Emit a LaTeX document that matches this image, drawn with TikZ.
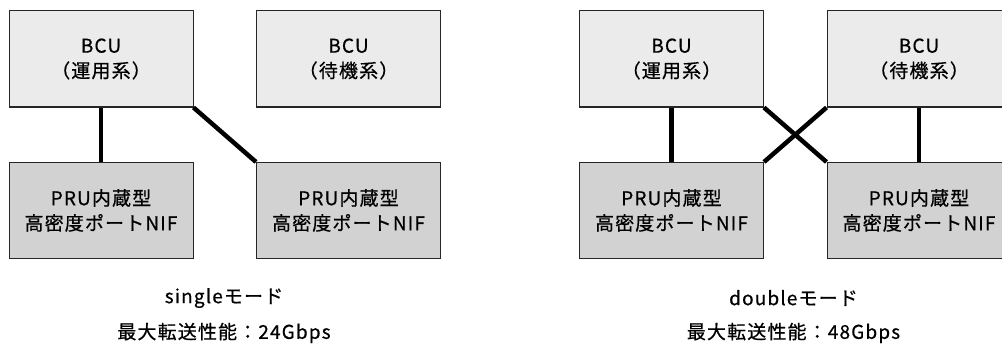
\documentclass[tikz,border=0pt]{standalone}
\usepackage{fontspec}
\setmainfont{Noto Sans CJK JP}[LetterSpace=6,FakeBold=0.6]
\usepackage{tikz}
\usetikzlibrary{calc}
\usepackage{xcolor}

\definecolor{bcugray}{HTML}{EBEBEB}
\definecolor{prugray}{HTML}{D2D2D2}

\begin{document}
\begin{tikzpicture}[x=1pt,y=-1pt,
  bcubox/.style={draw=black!85,line width=1pt,fill=bcugray,minimum width=\bwd pt,minimum height=\bht pt,align=center,inner sep=0pt,font=\fontsize{19}{25}\selectfont},
  prubox/.style={bcubox,fill=prugray},
  link/.style={line width=4.5pt},
  caption/.style={font=\fontsize{19}{25}\selectfont}]
% box-width & box-height
\newcommand{\bwd}{184}
\newcommand{\bht}{96}
% rows
\newcommand{\toprow}{59}
\newcommand{\botrow}{210.5}

\useasboundingbox (0,0) rectangle (1002,345);

% single mode
\node[bcubox] (bcuA) at (101,\toprow) {BCU\\（運用系）};
\node[bcubox] (bcuB) at (348.5,\toprow) {BCU\\（待機系）};
\node[prubox] (pruA) at (101,\botrow) {PRU内蔵型\\高密度ポートNIF};
\node[prubox] (pruB) at (348.5,\botrow) {PRU内蔵型\\高密度ポートNIF};
\draw[link] (bcuA) -- (pruA);
\draw[link] (bcuA.south east) -- (pruB.north west);
\node[caption] (singlemode) at (224,298) {singleモード};
\node[caption] (singlerate) at (224,333) {最大転送性能：24Gbps};

% double mode
\node[bcubox] (bcuC) at (671.5,\toprow) {BCU\\（運用系）};
\node[bcubox] (bcuD) at (919,\toprow) {BCU\\（待機系）};
\node[prubox] (pruC) at (671.5,\botrow) {PRU内蔵型\\高密度ポートNIF};
\node[prubox] (pruD) at (919,\botrow) {PRU内蔵型\\高密度ポートNIF};
\draw[link] (bcuC) -- (pruC);
\draw[link] (bcuD) -- (pruD);
\draw[link] (bcuC.south east) -- (pruD.north west);
\draw[link] (bcuD.south west) -- (pruC.north east);
\node[caption] (doublemode) at (793.5,298) {doubleモード};
\node[caption] (doublerate) at (793.5,333) {最大転送性能：48Gbps};
\end{tikzpicture}
\end{document}
